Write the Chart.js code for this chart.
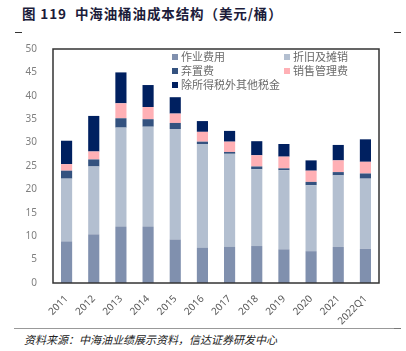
<!DOCTYPE html>
<html><head><meta charset="utf-8">
<script src="https://cdn.jsdelivr.net/npm/chart.js@4/dist/chart.umd.min.js"></script>
<style>
html,body{margin:0;padding:0;background:#fff;width:406px;height:351px;overflow:hidden;font-family:"Noto Sans CJK SC","Noto Sans",sans-serif;}
#title{position:absolute;left:22px;top:3px;font-size:13.5px;font-weight:bold;color:#1c1c3a;white-space:nowrap;letter-spacing:0.9px;}
#wrap{position:absolute;left:0;top:35px;width:385px;height:292px;}
.tick{position:absolute;height:1px;background:#333;}
#src{position:absolute;left:24px;top:331px;font-size:11px;font-style:italic;color:#222;white-space:nowrap;}
#bline{position:absolute;left:14px;top:328px;width:380px;height:1px;background:#999;}
#legend{position:absolute;left:172px;top:50px;width:205px;font-size:11px;color:#6a6a6a;background:#fff;}
.li{position:absolute;white-space:nowrap;line-height:13px;}
.li span{display:inline-block;width:6px;height:6px;margin-right:3px;vertical-align:1px;}
</style></head><body>
<div id="title">图 119&nbsp; 中海油桶油成本结构（美元/桶）</div>
<div class="tick" style="left:15px;top:32px;width:7px;"></div>
<div class="tick" style="left:394px;top:32px;width:7px;"></div>
<div id="wrap"><canvas id="c" width="385" height="292"></canvas></div>
<div id="legend"></div>
<div id="bline"></div>
<div class="tick" style="left:394px;top:328px;width:7px;background:#777"></div>
<div id="src">资料来源：中海油业绩展示资料，信达证券研发中心</div>
<script>
const categories = ["2011","2012","2013","2014","2015","2016","2017","2018","2019","2020","2021","2022Q1"];
const operating   = [8.9, 10.4, 12.1, 12.1, 9.3, 7.5, 7.7, 7.9, 7.2, 6.8, 7.7, 7.3];
const depreciation= [13.4, 14.5, 21.1, 21.3, 23.6, 22.2, 19.9, 16.4, 16.9, 14.1, 15.3, 15.0];
const abandonment = [1.7, 1.5, 2.0, 1.6, 1.3, 0.5, 0.4, 0.6, 0.4, 0.7, 0.7, 1.1];
const sga         = [1.4, 1.7, 3.2, 2.6, 2.0, 2.1, 2.2, 2.4, 2.5, 2.4, 2.5, 2.5];
const otherTax    = [5.0, 7.6, 6.6, 4.7, 3.5, 2.3, 2.3, 3.0, 2.7, 2.2, 3.3, 4.8];
const seriesNames = ["作业费用","折旧及摊销","弃置费","销售管理费","除所得税外其他税金"];
const yTicks = [0,5,10,15,20,25,30,35,40,45,50];

const colors = ["#8090ae","#b3bfd0","#34527f","#ffb0b5","#002060"];
const data = [operating, depreciation, abandonment, sga, otherTax];

// legend
const lg = document.getElementById('legend');
const pos = [[0,0],[112,0],[0,14],[112,14],[0,28]];
seriesNames.forEach((n,i)=>{
  const d=document.createElement('div');d.className='li';
  d.style.left=pos[i][0]+'px';d.style.top=pos[i][1]+'px';
  d.innerHTML='<span style="background:'+colors[i]+'"></span>'+n;
  lg.appendChild(d);
});
lg.style.height='42px';

const frame = {id:'frame',afterDraw(ch){const a=ch.chartArea,c=ch.ctx;c.save();c.strokeStyle='#333';c.lineWidth=1.5;c.strokeRect(a.left,a.top,a.right-a.left,a.bottom-a.top);c.restore();}};

new Chart(document.getElementById('c'),{
  type:'bar',
  data:{labels:categories,datasets:seriesNames.map((n,i)=>({label:n,data:data[i],backgroundColor:colors[i],borderWidth:0,barPercentage:0.41,categoryPercentage:1}))},
  options:{
    responsive:false,animation:false,
    layout:{padding:{top:1,right:6,left:0,bottom:0}},
    plugins:{legend:{display:false},tooltip:{enabled:false}},
    scales:{
      x:{stacked:true,grid:{display:false},border:{display:false},
        ticks:{color:'#595959',font:{size:10,family:'"Noto Sans","Noto Sans CJK SC",sans-serif'},minRotation:45,maxRotation:45,autoSkip:false,padding:2},
        afterFit(s){s.height=44;}},
      y:{stacked:true,min:0,max:50,grid:{display:false},border:{display:false},
        afterBuildTicks(s){s.ticks=yTicks.map(v=>({value:v}));},
        ticks:{color:'#7f7f7f',font:{size:10,family:'"Noto Sans","Noto Sans CJK SC",sans-serif'},padding:8},
        afterFit(s){s.width=53;}}
    }
  },
  plugins:[frame]
});
</script>
</body></html>
